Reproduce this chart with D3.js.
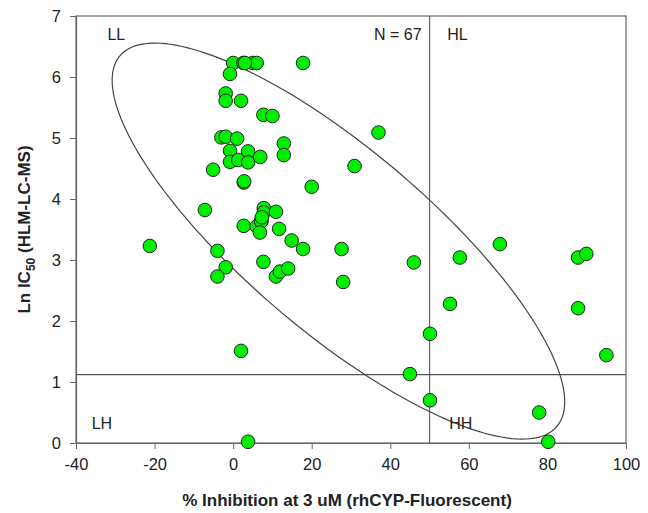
<!DOCTYPE html>
<html>
<head>
<meta charset="utf-8">
<script src="https://cdn.jsdelivr.net/npm/d3@7"></script>
<style>
  body { margin: 0; background: #fff; }
  svg text { font-family: "Liberation Sans", Arial, sans-serif; fill: #222; }
</style>
</head>
<body>
<div id="graphic"></div>
<script>
// Data
var inhibition = [
  0.0, 2.6, 5.0, 6.0, 17.8, -0.8, -1.9, -1.9, 2.0, 7.7,
  10.0, -3.0, -1.9, 1.0, 12.9, 12.9, -0.8, 3.8, -0.8, 1.3,
  3.8, 6.9, 30.9, -5.1, 2.7, 20.0, -7.2, 7.8, 7.8, 10.9,
  7.2, 37.0, 2.7, 6.0, 7.1, 6.8, 11.7, 14.9, 17.8, 27.6,
  -21.2, -4.0, -1.9, -4.0, 7.7, 10.9, 11.9, 14.0, 28.0, 2.0,
  3.8, 46.0, 57.7, 67.9, 87.8, 89.9, 87.8, 55.2, 50.1, 95.0,
  45.0, 50.1, 77.9, 80.2, 2.8, 3.0, 7.3
];
var lnIC50 = [
  6.23, 6.23, 6.23, 6.23, 6.23, 6.05, 5.73, 5.61, 5.61, 5.38,
  5.36, 5.01, 5.02, 4.99, 4.91, 4.72, 4.79, 4.78, 4.61, 4.64,
  4.60, 4.69, 4.54, 4.48, 4.27, 4.20, 3.82, 3.85, 3.78, 3.79,
  3.64, 5.09, 3.56, 3.55, 3.63, 3.45, 3.51, 3.32, 3.18, 3.18,
  3.23, 3.15, 2.88, 2.73, 2.97, 2.73, 2.81, 2.86, 2.64, 1.51,
  0.02, 2.96, 3.04, 3.26, 3.04, 3.10, 2.21, 2.28, 1.79, 1.44,
  1.13, 0.70, 0.50, 0.02, 4.29, 6.23, 3.70
];
var xTicks = [-40, -20, 0, 20, 40, 60, 80, 100];
var yTicks = [0, 1, 2, 3, 4, 5, 6, 7];
var cutX = 50;
var cutY = 1.12;
// confidence ellipse in data units: centre, spreads and covariance
var ellipseCenter = [26.8, 3.31];
var ellipseSpread = [57.6, 3.246];
var ellipseCov = -151.8;
var quadrantLabels = [
  { text: 'LL', x: -32, y: 6.6 },
  { text: 'HL', x: 54.5, y: 6.6 },
  { text: 'LH', x: -36, y: 0.23 },
  { text: 'HH', x: 55, y: 0.23 }
];

var renderGraphic = function (config) {
  var margins = { top: 16, right: 22, bottom: 70, left: 76 };
  var chartWidth = config.width - margins.left - margins.right;
  var chartHeight = config.height - margins.top - margins.bottom;

  var containerElement = d3.select(config.container);
  containerElement.html('');

  var svg = containerElement.append('svg')
    .attr('width', config.width)
    .attr('height', config.height);

  var chartElement = svg.append('g')
    .attr('transform', 'translate(' + margins.left + ',' + margins.top + ')');

  var xScale = d3.scaleLinear().domain([-40, 100]).range([0, chartWidth]);
  var yScale = d3.scaleLinear().domain([0, 7]).range([chartHeight, 0]);

  // frame
  chartElement.append('rect')
    .attr('width', chartWidth)
    .attr('height', chartHeight)
    .attr('fill', 'none')
    .attr('stroke', '#666')
    .attr('stroke-width', 1.2);

  // axes
  var plain = function (d) { return String(d); };
  var xAxis = chartElement.append('g')
    .attr('transform', 'translate(0,' + chartHeight + ')')
    .call(d3.axisBottom(xScale).tickValues(xTicks).tickFormat(plain)
      .tickSizeOuter(0).tickSizeInner(6).tickPadding(9));
  var yAxis = chartElement.append('g')
    .call(d3.axisLeft(yScale).tickValues(yTicks).tickFormat(plain)
      .tickSizeOuter(0).tickSizeInner(6).tickPadding(9));
  [xAxis, yAxis].forEach(function (ax) {
    ax.select('.domain').attr('stroke', '#666').attr('stroke-width', 1.2);
    ax.selectAll('.tick line').attr('stroke', '#666');
    ax.selectAll('.tick text')
      .attr('font-size', 16.5)
      .attr('fill', '#222')
      .style('font-family', '"Liberation Sans", Arial, sans-serif');
  });

  // quadrant dividers
  chartElement.append('line')
    .attr('x1', xScale(cutX)).attr('x2', xScale(cutX))
    .attr('y1', 0).attr('y2', chartHeight)
    .attr('stroke', '#666').attr('stroke-width', 1.2);
  chartElement.append('line')
    .attr('x1', 0).attr('x2', chartWidth)
    .attr('y1', yScale(cutY)).attr('y2', yScale(cutY))
    .attr('stroke', '#555').attr('stroke-width', 1.2);

  // ellipse
  var b = ellipseCov / ellipseSpread[0];
  var c = Math.sqrt(ellipseSpread[1] * ellipseSpread[1] - b * b);
  var ellipsePts = d3.range(0, 361, 2).map(function (deg) {
    var t = deg * Math.PI / 180;
    return [
      ellipseCenter[0] + ellipseSpread[0] * Math.cos(t),
      ellipseCenter[1] + b * Math.cos(t) + c * Math.sin(t)
    ];
  });
  chartElement.append('path')
    .datum(ellipsePts)
    .attr('d', d3.line()
      .x(function (d) { return xScale(d[0]); })
      .y(function (d) { return yScale(d[1]); })
      .curve(d3.curveLinearClosed))
    .attr('fill', 'none')
    .attr('stroke', '#444')
    .attr('stroke-width', 1.2);

  // quadrant labels
  chartElement.selectAll('.quad')
    .data(quadrantLabels)
    .enter().append('text')
    .attr('x', function (d) { return xScale(d.x); })
    .attr('y', function (d) { return yScale(d.y); })
    .attr('font-size', 16)
    .text(function (d) { return d.text; });

  chartElement.append('text')
    .attr('x', xScale(cutX) - 8)
    .attr('y', yScale(6.6))
    .attr('text-anchor', 'end')
    .attr('font-size', 16)
    .text('N = ' + inhibition.length);

  // points
  var points = inhibition.map(function (x, i) { return [x, lnIC50[i]]; });
  chartElement.selectAll('circle.pt')
    .data(points)
    .enter().append('circle')
    .attr('class', 'pt')
    .attr('cx', function (d) { return xScale(d[0]); })
    .attr('cy', function (d) { return yScale(d[1]); })
    .attr('r', 6.8)
    .attr('fill', '#00ee00')
    .attr('stroke', '#222')
    .attr('stroke-width', 1);

  // axis titles
  svg.append('text')
    .attr('x', margins.left + chartWidth / 2 - 4)
    .attr('y', config.height - 7)
    .attr('text-anchor', 'middle')
    .attr('font-size', 17)
    .attr('font-weight', 'bold')
    .text('% Inhibition at 3 uM (rhCYP-Fluorescent)');

  var yTitle = svg.append('text')
    .attr('transform', 'translate(30,' + (margins.top + chartHeight / 2) + ') rotate(-90)')
    .attr('text-anchor', 'middle')
    .attr('font-size', 17)
    .attr('font-weight', 'bold');
  yTitle.append('tspan').text('Ln IC');
  yTitle.append('tspan').attr('font-size', 12).attr('dy', 5).text('50');
  yTitle.append('tspan').attr('dy', -5).text(' (HLM-LC-MS)');
};

window.onload = function () {
  renderGraphic({ container: '#graphic', width: 648, height: 513 });
};
</script>
</body>
</html>
